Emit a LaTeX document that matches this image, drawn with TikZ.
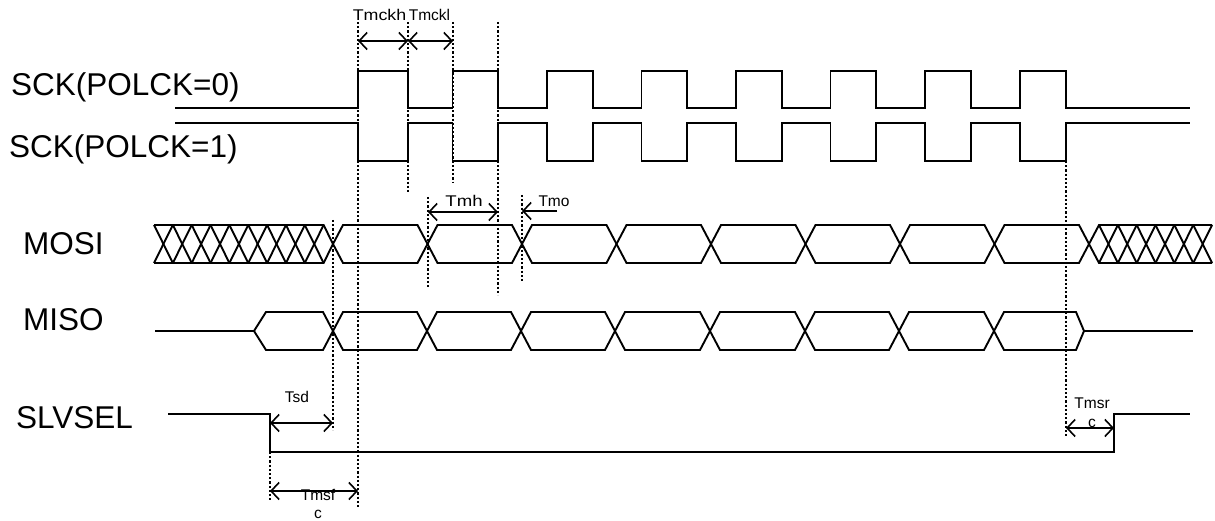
\documentclass[tikz,border=0pt]{standalone}
\usepackage{fontspec}
\setmainfont{Liberation Sans}
\usetikzlibrary{arrows.meta}
\begin{document}
\begin{tikzpicture}[x=1pt,y=-1pt,
  sig/.style={line width=1.9pt, line join=miter},
  vdot/.style={line width=1.6pt, dash pattern=on 2.2pt off 2pt},
  dimarrow/.style={line width=1.6pt, {Straight Barb[length=8pt,width=17pt]}-{Straight Barb[length=8pt,width=17pt]}},
  onearrow/.style={line width=1.6pt, -{Straight Barb[length=8pt,width=17pt]}},
  big/.style={font=\fontsize{31.5}{31.5}\selectfont, anchor=base west, inner sep=0pt},
  small/.style={font=\fontsize{15.5}{15.5}\selectfont, anchor=base, inner sep=0pt},
]
\useasboundingbox (0,0) rectangle (1215,521);

% signal names
\node[big] (n0) at (11,96) {SCK(POLCK=0)};
\node[big] (n1) at (9,158) {SCK(POLCK=1)};
\node[big] (n2) at (23,255) {MOSI};
\node[big] (n3) at (23,330) {MISO};
\node[big] (n4) at (16,428) {SLVSEL};

% SCK waveforms
\draw[sig] (175,108) \foreach \r/\f in {358/408,452.5/498,547/593,641.5/687,736/782,830.5/876,925/971,1020/1066}{ -- (\r,108) -- (\r,71) -- (\f,71) -- (\f,108) } -- (1190,108);
\draw[sig] (175,123) \foreach \r/\f in {358/408,452.5/498,547/593,641.5/687,736/782,830.5/876,925/971,1020/1066}{ -- (\r,123) -- (\r,161) -- (\f,161) -- (\f,123) } -- (1190,123);

% MOSI hatch left
\draw[sig] (154,225) -- (323.6,225) -- (333,244) -- (323.6,263) -- (154,263);
\foreach \k in {0,...,8}{
  \draw[sig] ({154+\k*18.85},225) -- ({154+(\k+1)*18.85},263);
  \draw[sig] ({154+\k*18.85},263) -- ({154+(\k+1)*18.85},225);
}
% MOSI cells
\foreach \a/\b in {333/427.5,427.5/522,522/616.5,616.5/711,711/805.5,805.5/900,900/994.5,994.5/1089}{
  \draw[sig] (\a,244) -- (\a+10,225) -- (\b-10,225) -- (\b,244) -- (\b-10,263) -- (\a+10,263) -- cycle;
}
% MOSI hatch right
\draw[sig] (1212,225) -- (1099,225) -- (1089,244) -- (1099,263) -- (1212,263);
\foreach \k in {0,...,5}{
  \draw[sig] ({1099+\k*18.85},225) -- ({1099+(\k+1)*18.85},263);
  \draw[sig] ({1099+\k*18.85},263) -- ({1099+(\k+1)*18.85},225);
}

% MISO
\draw[sig] (155,331) -- (254,331) -- (266,312) -- (323,312) -- (333,331) -- (323,350) -- (266,350) -- (254,331);
\foreach \a/\b in {333/427,427/521,521/615,615/710,710/805,805/899,899/994}{
  \draw[sig] (\a,331) -- (\a+10,312) -- (\b-10,312) -- (\b,331) -- (\b-10,350) -- (\a+10,350) -- cycle;
}
\draw[sig] (994,331) -- (1004,312) -- (1076,312) -- (1084,331) -- (1076,350) -- (1004,350) -- cycle;
\draw[sig] (1084,331) -- (1193,331);

% SLVSEL
\draw[sig] (168,414) -- (270,414) -- (270,452) -- (1114,452) -- (1114,414) -- (1190,414);

% dotted guides
\draw[vdot] (358,22) -- (358,507);
\draw[vdot] (408,22) -- (408,193);
\draw[vdot] (453,22) -- (453,182);
\draw[vdot] (498,22) -- (498,295);
\draw[vdot] (428,197) -- (428,287);
\draw[vdot] (522,195) -- (522,283);
\draw[vdot] (333,220) -- (333,430);
\draw[vdot] (270,452) -- (270,500);
\draw[vdot] (1066,161) -- (1066,437);

% dimension coordinates
\coordinate (kh0) at (358,41); \coordinate (kh1) at (408,41); \coordinate (kl1) at (453,41);
\coordinate (mh0) at (428,212); \coordinate (mh1) at (498,212);
\coordinate (mo0) at (557,211); \coordinate (mo1) at (522,211);
\coordinate (sd0) at (270,423); \coordinate (sd1) at (333,423);
\coordinate (sf0) at (270,491); \coordinate (sf1) at (358,491);
\coordinate (sr0) at (1066,428); \coordinate (sr1) at (1114,428);

\draw[dimarrow] (kh0) -- (kh1);
\draw[dimarrow] (kh1) -- (kl1);
\draw[dimarrow] (mh0) -- (mh1);
\draw[onearrow] (mo0) -- (mo1);
\draw[dimarrow] (sd0) -- (sd1);
\draw[dimarrow] (sf0) -- (sf1);
\draw[dimarrow] (sr0) -- (sr1);

% timing labels
\node[small] (tkh) at (379.5,21) {\scalebox{1.15}[1]{Tmckh}};
\node[small] (tkl) at (429.5,21) {Tmckl};
\node[small] (tmh) at (464,207) {\scalebox{1.2}[1]{Tmh}};
\node[small] (tmo) at (554,207) {Tmo};
\node[small] (tsd) at (297,402) {Tsd};
\node[small] (tsf) at (318,500) {Tmsf};
\node[small] (tsfc) at (318,518) {c};
\node[small] (tsr) at (1092,408) {Tmsr};
\node[small] (tsrc) at (1092,427) {c};
\end{tikzpicture}
\end{document}
